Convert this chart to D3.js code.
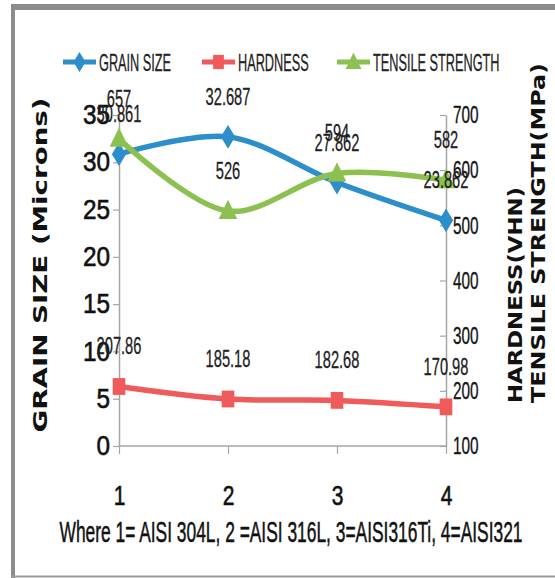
<!DOCTYPE html>
<html>
<head>
<meta charset="utf-8">
<script src="https://cdn.jsdelivr.net/npm/d3@7"></script>
<style>
  html, body { margin: 0; padding: 0; background: #fff; }
  svg { display: block; }
</style>
</head>
<body>
<svg id="chart" width="555" height="578"></svg>
<script>
// Material categories along the x axis
const categories = ["1", "2", "3", "4"];
// Grain size (microns), left axis
const grainSize = [30.861, 32.687, 27.862, 23.862];
// Hardness (VHN), right axis
const hardness = [207.86, 185.18, 182.68, 170.98];
// Tensile strength (MPa), right axis
const tensile = [657, 526, 594, 582];
// Axis tick values
const leftTicks = [0, 5, 10, 15, 20, 25, 30, 35];
const rightTicks = [100, 200, 300, 400, 500, 600, 700];
const seriesNames = ["GRAIN SIZE", "HARDNESS", "TENSILE STRENGTH"];
const caption = "Where 1= AISI 304L,  2 =AISI 316L,  3=AISI316Ti, 4=AISI321";

const SANS = "'Liberation Sans', Arial, sans-serif";
const BOLD = "'DejaVu Sans', Verdana, sans-serif";
const colors = { grain: "#2c8fcb", hard: "#ef5a5a", tens: "#8cc152" };

// Squeeze text horizontally to a fraction of its natural width (narrow face look)
function condense(sel, sx) {
  sel.each(function () {
    const w = this.getComputedTextLength();
    this.setAttribute("textLength", w * sx);
    this.setAttribute("lengthAdjust", "spacingAndGlyphs");
  });
}
function fitTo(sel, width, mode) {
  sel.attr("textLength", width).attr("lengthAdjust", mode || "spacingAndGlyphs");
}
// Slightly heavier strokes for the narrow labels
function heavy(sel, color, w) {
  sel.attr("stroke", color).attr("stroke-width", w).attr("paint-order", "fill");
}

const svg = d3.select("#chart");

// Frame
svg.append("line").attr("x1", 11).attr("x2", 555).attr("y1", 7).attr("y2", 7)
  .attr("stroke", "#8c8c8c").attr("stroke-width", 6);
svg.append("line").attr("x1", 13).attr("x2", 13).attr("y1", 4).attr("y2", 578)
  .attr("stroke", "#8c8c8c").attr("stroke-width", 4);
svg.append("line").attr("x1", 11).attr("x2", 555).attr("y1", 576.5).attr("y2", 576.5)
  .attr("stroke", "#9a9a9a").attr("stroke-width", 2);

const x = d3.scalePoint().domain(categories).range([119, 446]);
const yL = d3.scaleLinear().domain([0, 35]).range([446, 115]);
const yR = d3.scaleLinear().domain([100, 700]).range([446, 115]);

function styleAxis(g, size) {
  g.selectAll(".domain").attr("stroke", "#a6a6a6").attr("stroke-width", 1.5);
  g.selectAll(".tick line").attr("stroke", "#a6a6a6").attr("stroke-width", 1.2);
  g.selectAll(".tick text").attr("fill", "#111").attr("font-family", SANS).attr("font-size", size);
}

// Left axis
const gL = svg.append("g").attr("transform", "translate(119,0)")
  .call(d3.axisLeft(yL).tickValues(leftTicks).tickSizeInner(6).tickSizeOuter(0).tickPadding(3));
styleAxis(gL, 27);
condense(gL.selectAll(".tick text"), 0.9);
heavy(gL.selectAll(".tick text"), "#111", 0.6);

// Right axis (ticks pointing into the plot)
const gR = svg.append("g").attr("transform", "translate(446,0)")
  .call(d3.axisRight(yR).tickValues(rightTicks).tickSizeInner(-6).tickSizeOuter(0).tickPadding(7));
styleAxis(gR, 24);
condense(gR.selectAll(".tick text"), 0.64);
heavy(gR.selectAll(".tick text"), "#222", 0.35);

// Bottom axis
const gX = svg.append("g").attr("transform", "translate(0,446)")
  .call(d3.axisBottom(x).tickSizeInner(8).tickSizeOuter(0).tickPadding(31));
styleAxis(gX, 28);
gX.select(".domain").attr("d", `M${x("1")},0H${x("4")}`);
condense(gX.selectAll(".tick text"), 0.75);
heavy(gX.selectAll(".tick text"), "#111", 0.6);

// Axis titles
const titleStyle = (t) => t.attr("font-family", BOLD).attr("font-weight", "bold")
  .attr("font-size", 19).attr("fill", "#111");
svg.append("text")
  .attr("transform", "translate(47,265) rotate(-90)")
  .attr("text-anchor", "middle")
  .call(titleStyle)
  .text("GRAIN SIZE (Microns)")
  .call(fitTo, 335);
svg.append("text")
  .attr("transform", "translate(522,403) rotate(-90)")
  .attr("text-anchor", "start")
  .call(titleStyle)
  .text("HARDNESS(VHN)")
  .call(fitTo, 216);
svg.append("text")
  .attr("transform", "translate(545,403) rotate(-90)")
  .attr("text-anchor", "start")
  .call(titleStyle)
  .text("TENSILE STRENGTH(MPa)")
  .call(fitTo, 340);

// Marker shapes
const diamond = (s) => `M0,${-s * 0.7}L${s * 0.42},0L0,${s * 0.7}L${-s * 0.42},0Z`;
const square = (s) => `M${-s * 0.45},${-s * 0.6}H${s * 0.45}V${s * 0.6}H${-s * 0.45}Z`;
const triangle = (s) => `M0,${-s * 0.62}L${s * 0.52},${s * 0.45}L${-s * 0.52},${s * 0.45}Z`;

const series = [
  { key: "grain", name: seriesNames[0], values: grainSize, y: yL, color: colors.grain, marker: diamond, ms: 17, fmt: d3.format(".3f") },
  { key: "hard", name: seriesNames[1], values: hardness, y: yR, color: colors.hard, marker: square, ms: 14, fmt: d3.format(".2f") },
  { key: "tens", name: seriesNames[2], values: tensile, y: yR, color: colors.tens, marker: triangle, ms: 18, fmt: d3.format("d") }
];

const plot = svg.append("g");
series.forEach(s => {
  const line = d3.line()
    .x((d, i) => x(categories[i]))
    .y(d => s.y(d))
    .curve(d3.curveCatmullRom.alpha(0.5));
  plot.append("path")
    .attr("d", line(s.values))
    .attr("fill", "none")
    .attr("stroke", s.color)
    .attr("stroke-width", 5.5)
    .attr("stroke-linejoin", "round");
});
series.forEach(s => {
  plot.selectAll(null).data(s.values).enter().append("path")
    .attr("transform", (d, i) => `translate(${x(categories[i])},${s.y(d)})`)
    .attr("d", s.marker(s.ms))
    .attr("fill", s.color);
});

// Data labels
series.forEach(s => {
  const t = plot.selectAll(null).data(s.values).enter().append("text")
    .attr("x", (d, i) => x(categories[i]))
    .attr("y", d => s.y(d) - 32)
    .attr("text-anchor", "middle")
    .attr("font-family", SANS)
    .attr("font-size", 24)
    .attr("fill", "#222")
    .text(d => s.fmt(d));
  condense(t, 0.61);
  heavy(t, "#222", 0.3);
});

// Legend
const legendItems = [
  { s: series[0], x0: 63 },
  { s: series[1], x0: 202 },
  { s: series[2], x0: 337 }
];
const lg = svg.append("g");
legendItems.forEach(({ s, x0 }) => {
  lg.append("line").attr("x1", x0).attr("x2", x0 + 33).attr("y1", 62).attr("y2", 62)
    .attr("stroke", s.color).attr("stroke-width", 5);
  lg.append("path").attr("transform", `translate(${x0 + 16.5},62)`)
    .attr("d", s.marker(s.ms * 0.85)).attr("fill", s.color);
  const t = lg.append("text").attr("x", x0 + 36).attr("y", 71)
    .attr("font-family", SANS).attr("font-size", 24).attr("fill", "#222")
    .text(s.name);
  condense(t, 0.53);
  heavy(t, "#222", 0.3);
});

// Caption
svg.append("text")
  .attr("x", 291).attr("y", 542)
  .attr("text-anchor", "middle")
  .attr("font-family", SANS).attr("font-size", 29).attr("fill", "#111")
  .text(caption)
  .call(fitTo, 463)
  .call(heavy, "#111", 0.5);
</script>
</body>
</html>
